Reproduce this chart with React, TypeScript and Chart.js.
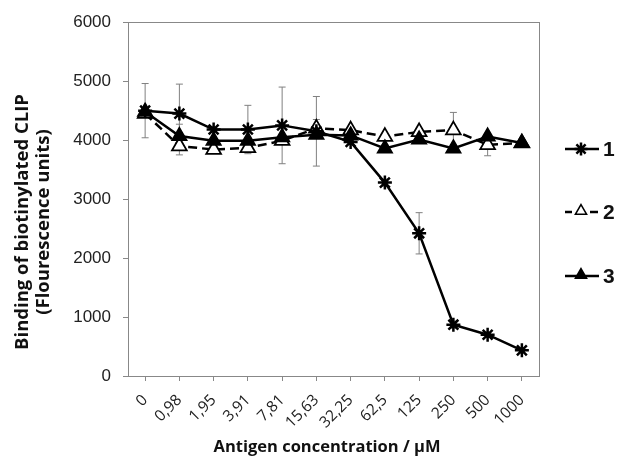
import React, { useEffect, useRef } from "react";
import { Chart, registerables } from "chart.js";
import { drawPoint } from "chart.js/helpers";

Chart.register(...registerables);

const categories = ["0", "0,98", "1,95", "3,91", "7,81", "15,63", "32,25", "62,5", "125", "250", "500", "1000"];
const series1 = [4500, 4450, 4180, 4180, 4250, 4150, 3970, 3280, 2420, 870, 700, 435];
const series1Err = [460, 500, 0, 410, 650, 590, 0, 60, 350, 60, 0, 0];
const series2 = [4450, 3900, 3840, 3870, 3990, 4200, 4170, 4060, 4140, 4170, 3920, 3950];
const series2Err = [0, 150, 0, 0, 0, 150, 0, 0, 0, 300, 185, 0];
const series3 = [4480, 4070, 3990, 3990, 4050, 4090, 4080, 3860, 4010, 3860, 4060, 3950];
const series3Err = [0, 200, 0, 0, 0, 0, 0, 60, 0, 0, 0, 0];
const legendLabels = ["1", "2", "3"];
const yTitle = ["Binding of biotinylated CLIP", "(Flourescence units)"];
const xTitle = "Antigen concentration / µM";

const errors = [series1Err, series2Err, series3Err];

const errorBarPlugin = {
  id: "errorBars",
  beforeDatasetsDraw(chart: any) {
    const ctx = chart.ctx;
    const y = chart.scales.y;
    ctx.save();
    ctx.strokeStyle = "#808080";
    ctx.lineWidth = 1;
    chart.data.datasets.forEach((ds: any, i: number) => {
      const meta = chart.getDatasetMeta(i);
      const errs = errors[i];
      meta.data.forEach((pt: any, j: number) => {
        const e = errs[j];
        if (!e) return;
        const v = ds.data[j];
        const top = y.getPixelForValue(v + e);
        const bot = y.getPixelForValue(v - e);
        const x = pt.x;
        ctx.beginPath();
        ctx.moveTo(x, top);
        ctx.lineTo(x, bot);
        ctx.moveTo(x - 3.5, top);
        ctx.lineTo(x + 3.5, top);
        ctx.moveTo(x - 3.5, bot);
        ctx.lineTo(x + 3.5, bot);
        ctx.stroke();
      });
    });
    ctx.restore();
  },
};

const decorPlugin = {
  id: "decor",
  afterDraw(chart: any) {
    const ctx = chart.ctx;
    const a = chart.chartArea;
    ctx.save();
    // box
    ctx.strokeStyle = "#888888";
    ctx.lineWidth = 1;
    ctx.strokeRect(Math.round(a.left) + 0.5, Math.round(a.top) + 0.5, Math.round(a.right - a.left), Math.round(a.bottom - a.top));
    // y title
    ctx.fillStyle = "#111111";
    ctx.font = "bold 18.5px 'Open Sans'";
    ctx.textAlign = "center";
    ctx.textBaseline = "middle";
    ctx.save();
    ctx.translate(0, 222);
    ctx.rotate(-Math.PI / 2);
    ctx.fillText(yTitle[0], 0, 23);
    ctx.fillText(yTitle[1], 0, 44);
    ctx.restore();
    // x title
    ctx.font = "bold 16.5px 'Open Sans'";
    ctx.fillText(xTitle, 327, 447);
    // legend
    const ys = [149, 212, 276];
    chart.data.datasets.forEach((ds: any, i: number) => {
      const yy = ys[i];
      ctx.strokeStyle = "#000";
      ctx.lineWidth = 2.5;
      ctx.beginPath();
      if (i === 1) {
        ctx.moveTo(565, yy);
        ctx.lineTo(572, yy);
        ctx.moveTo(590, yy);
        ctx.lineTo(598, yy);
      } else {
        ctx.moveTo(565, yy);
        ctx.lineTo(599, yy);
      }
      ctx.stroke();
      ctx.fillStyle = ds.pointBackgroundColor;
      ctx.strokeStyle = "#000";
      ctx.lineWidth = i === 0 ? 2.5 : 1.5;
      drawPoint(ctx, { pointStyle: ds.pointStyle, radius: 6.5, rotation: 0, borderWidth: ctx.lineWidth }, 581, yy - (i === 0 ? 0 : 1));
      ctx.fillStyle = "#111";
      ctx.font = "bold 21px 'Liberation Sans'";
      ctx.textAlign = "left";
      ctx.textBaseline = "middle";
      ctx.fillText(legendLabels[i], 603, yy + 1);
    });
    ctx.restore();
  },
};

export default function App() {
  const ref = useRef<HTMLCanvasElement>(null);
  useEffect(() => {
    if (!ref.current) return;
    const chart = new Chart(ref.current, {
      type: "line",
      data: {
        labels: categories,
        datasets: [
          {
            label: legendLabels[0],
            data: series1,
            order: 1,
            borderColor: "#000",
            borderWidth: 2.5,
            pointStyle: "star",
            pointRadius: 7,
            pointBorderWidth: 2.5,
            pointBorderColor: "#000",
            pointBackgroundColor: "#000",
            tension: 0,
          },
          {
            label: legendLabels[1],
            data: series2,
            order: 3,
            borderColor: "#000",
            borderWidth: 2.5,
            borderDash: [9, 5],
            pointStyle: "triangle",
            pointRadius: 8.5,
            pointBorderWidth: 1.8,
            pointBorderColor: "#000",
            pointBackgroundColor: "#fff",
            tension: 0,
          },
          {
            label: legendLabels[2],
            data: series3,
            order: 2,
            borderColor: "#000",
            borderWidth: 2.5,
            pointStyle: "triangle",
            pointRadius: 8.5,
            pointBorderWidth: 1.5,
            pointBorderColor: "#000",
            pointBackgroundColor: "#000",
            tension: 0,
          },
        ],
      },
      options: {
        animation: false,
        responsive: true,
        maintainAspectRatio: false,
        layout: { padding: { left: 0, right: 79, top: 17, bottom: 0 } },
        plugins: { legend: { display: false }, tooltip: { enabled: false } },
        scales: {
          x: {
            offset: true,
            grid: { display: true, drawOnChartArea: false, drawTicks: true, tickLength: 5, color: "#888", offset: false },
            border: { color: "#888", width: 1 },
            ticks: {
              autoSkip: false,
              maxRotation: 45,
              minRotation: 45,
              color: "#222",
              padding: 10,
              font: { family: "'Open Sans'", size: 15.5 },
            },
            afterFit: (s: any) => {
              s.height = 82;
            },
          },
          y: {
            min: 0,
            max: 6000,
            ticks: {
              stepSize: 1000,
              color: "#222",
              padding: 12,
              font: { family: "'Liberation Sans'", size: 17 },
              callback: (v: any) => String(v),
            },
            grid: { display: true, drawOnChartArea: false, drawTicks: true, tickLength: 5, color: "#888" },
            border: { color: "#888", width: 1 },
            afterFit: (s: any) => {
              s.width = 128;
            },
          },
        },
      },
      plugins: [errorBarPlugin, decorPlugin],
    });
    return () => chart.destroy();
  }, []);
  return (
    <div style={{ position: "fixed", left: 0, top: 0, width: 618, height: 458, background: "#fff" }}>
      <canvas ref={ref} />
    </div>
  );
}
